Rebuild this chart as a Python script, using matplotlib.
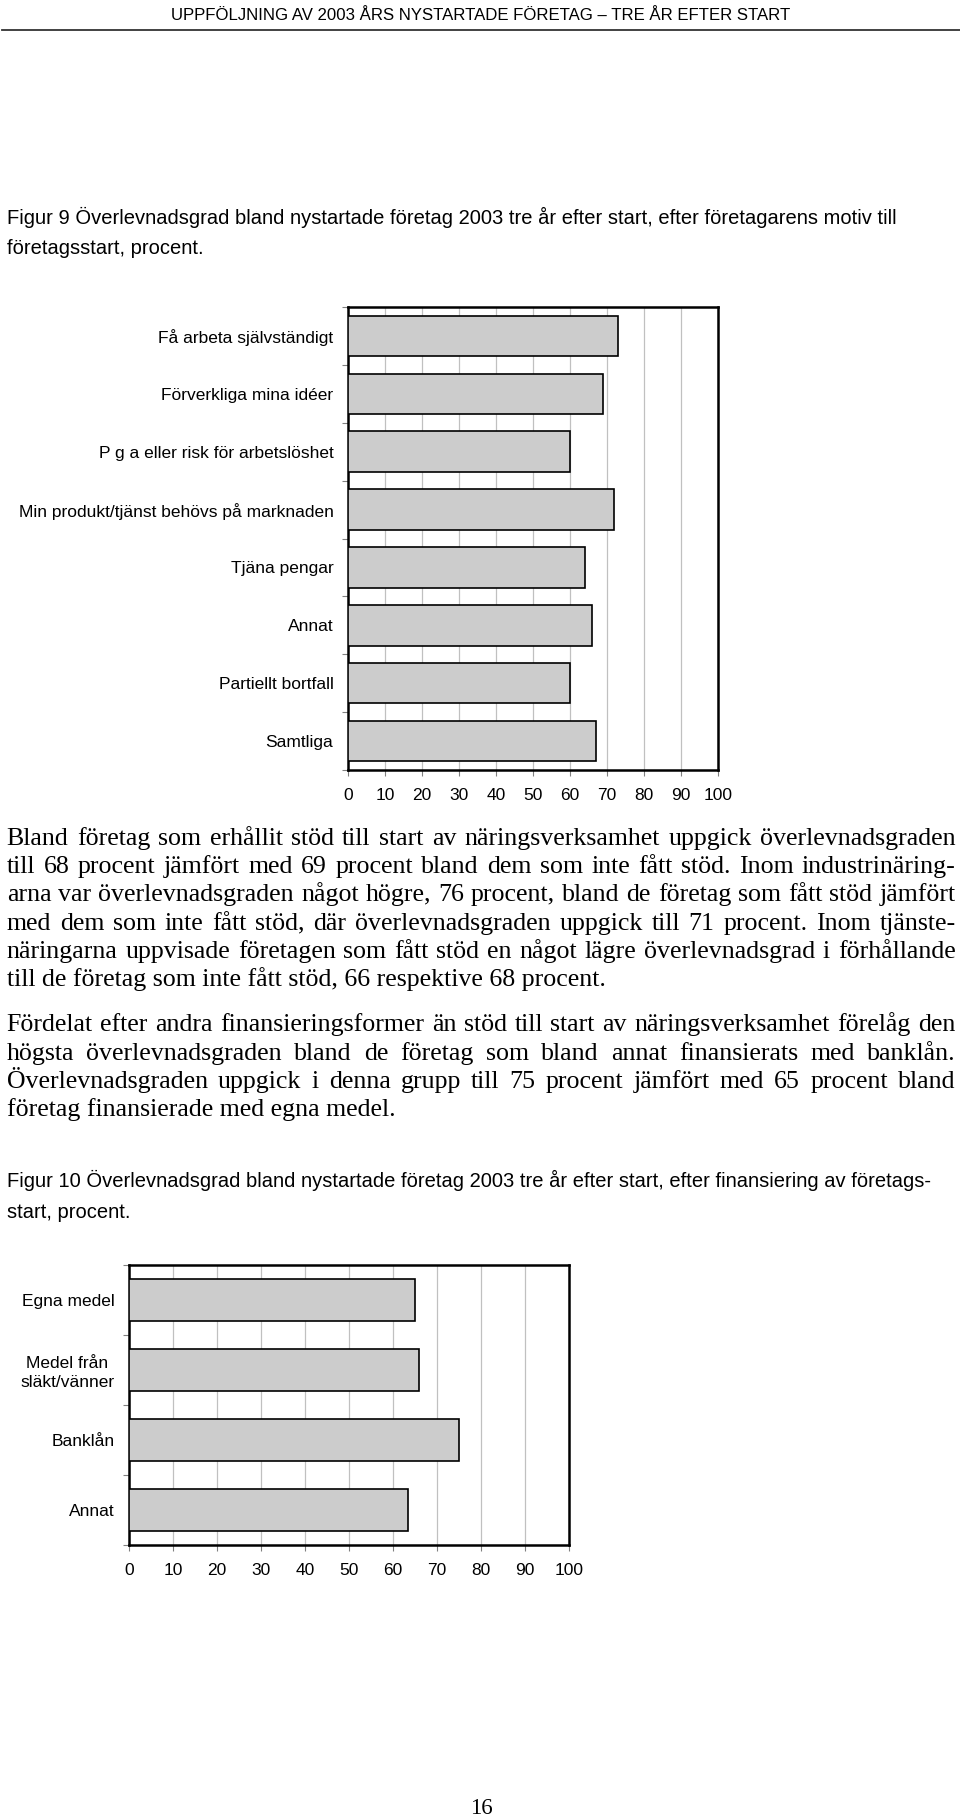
import matplotlib
matplotlib.use("Agg")
import matplotlib.pyplot as plt
from matplotlib.lines import Line2D

W, H, DPI = 960, 1816, 100
SANS = "Liberation Sans"
SERIF = "Liberation Serif"

# Figur 9: survival by motive for starting the business (percent)
motives = [
    "Få arbeta självständigt",
    "Förverkliga mina idéer",
    "P g a eller risk för arbetslöshet",
    "Min produkt/tjänst behövs på marknaden",
    "Tjäna pengar",
    "Annat",
    "Partiellt bortfall",
    "Samtliga",
]
motive_survival = [73, 69, 60, 72, 64, 66, 60, 67]

# Figur 10: survival by financing (percent)
financing = ["Egna medel", "Medel från\nsläkt/vänner", "Banklån", "Annat"]
financing_survival = [65, 66, 75, 63.5]

xticks = list(range(0, 101, 10))

header = "UPPFÖLJNING AV 2003 ÅRS NYSTARTADE FÖRETAG – TRE ÅR EFTER START"
caption9 = [
    "Figur 9 Överlevnadsgrad bland nystartade företag 2003 tre år efter start, efter företagarens motiv till",
    "företagsstart, procent.",
]
caption10 = [
    "Figur 10 Överlevnadsgrad bland nystartade företag 2003 tre år efter start, efter finansiering av företags-",
    "start, procent.",
]
para1 = [
    "Bland företag som erhållit stöd till start av näringsverksamhet uppgick överlevnadsgraden",
    "till 68 procent jämfört med 69 procent bland dem som inte fått stöd. Inom industrinäring-",
    "arna var överlevnadsgraden något högre, 76 procent, bland de företag som fått stöd jämfört",
    "med dem som inte fått stöd, där överlevnadsgraden uppgick till 71 procent. Inom tjänste-",
    "näringarna uppvisade företagen som fått stöd en något lägre överlevnadsgrad i förhållande",
    "till de företag som inte fått stöd, 66 respektive 68 procent.",
]
para2 = [
    "Fördelat efter andra finansieringsformer än stöd till start av näringsverksamhet förelåg den",
    "högsta överlevnadsgraden bland de företag som bland annat finansierats med banklån.",
    "Överlevnadsgraden uppgick i denna grupp till 75 procent jämfört med 65 procent bland",
    "företag finansierade med egna medel.",
]
page_number = "16"


def fx(x):
    return x / W


def fy(y):
    return 1 - y / H


def fit_size(fig, renderer, text, width, family):
    t = fig.text(0, 0, text, fontsize=10, family=family)
    w = t.get_window_extent(renderer).width
    t.remove()
    return 10 * width / w


def draw_lines(fig, renderer, lines, x0, x1, y0, step, **kw):
    # justified paragraph: every line but the last is spread to the full width
    for i, line in enumerate(lines):
        y = fy(y0 + i * step)
        if i == len(lines) - 1:
            fig.text(fx(x0), y, line, ha="left", va="baseline", **kw)
            continue
        words = line.split()
        items = [fig.text(0, y, w, ha="left", va="baseline", **kw) for w in words]
        widths = [t.get_window_extent(renderer).width for t in items]
        gap = (x1 - x0 - sum(widths)) / (len(words) - 1)
        x = x0
        for t, w in zip(items, widths):
            t.set_x(fx(x))
            x += w + gap


def bar_panel(fig, left, right, top, bottom, labels, values, bar_height):
    ax = fig.add_axes([fx(left), fy(bottom), (right - left) / W, (bottom - top) / H])
    n = len(labels)
    pos = list(range(n))
    ax.barh(pos, values, height=bar_height, color="#cccccc",
            edgecolor="black", linewidth=1.2, zorder=3)
    ax.set_xlim(0, 100)
    ax.set_ylim(n - 0.5, -0.5)
    ax.set_xticks(xticks)
    ax.set_xticklabels([str(t) for t in xticks], fontsize=12.5, family=SANS)
    ax.set_yticks(pos)
    ax.set_yticklabels(labels, fontsize=12.5, family=SANS, ma="center", linespacing=1.3)
    ax.set_yticks([i - 0.5 for i in range(n + 1)], minor=True)
    ax.tick_params(axis="y", which="major", length=0, pad=10.5)
    ax.tick_params(axis="y", which="minor", length=4, color="#808080", width=0.8)
    ax.tick_params(axis="x", length=4, color="#808080", width=0.8, pad=9)
    ax.grid(axis="x", color="#c0c0c0", linewidth=0.9, zorder=0)
    ax.set_axisbelow(True)
    for s in ax.spines.values():
        s.set_linewidth(1.8)
    return ax


fig = plt.figure(figsize=(W / DPI, H / DPI), dpi=DPI)
fig.patch.set_facecolor("white")
renderer = fig.canvas.get_renderer()

# page header
fig.text(fx(481), fy(16), header, ha="center", va="center",
         fontsize=fit_size(fig, renderer, header, 619, SANS), family=SANS)
fig.add_artist(Line2D([fx(2), fx(960)], [fy(30), fy(30)], color="#333333",
                      linewidth=1.3, transform=fig.transFigure))

cap_size = fit_size(fig, renderer, caption9[0], 892, SANS)
for i, line in enumerate(caption9):
    fig.text(fx(6.7), fy(224 + i * 30), line, ha="left", va="baseline",
             fontsize=cap_size, family=SANS)

bar_panel(fig, 348, 718, 307, 770, motives, motive_survival, 0.70)

draw_lines(fig, renderer, para1, 6.7, 955.5, 844.7, 28.3, fontsize=18.6, family=SERIF)
draw_lines(fig, renderer, para2, 6.7, 955.5, 1031.4, 28.3, fontsize=18.6, family=SERIF)

for i, line in enumerate(caption10):
    fig.text(fx(6.7), fy(1186.7 + i * 31), line, ha="left", va="baseline",
             fontsize=cap_size, family=SANS)

bar_panel(fig, 129, 569, 1265, 1545, financing, financing_survival, 0.586)

fig.text(fx(481), fy(1814), page_number, ha="center", va="baseline",
         fontsize=16.5, family=SERIF)

fig.savefig("out.png", dpi=DPI, facecolor="white")
plt.close(fig)
